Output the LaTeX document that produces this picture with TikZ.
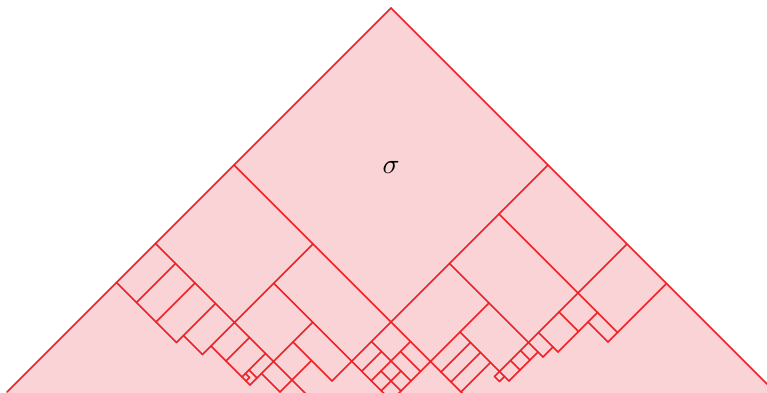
\documentclass[tikz,border=0pt]{standalone}
\usepackage{xcolor}
\definecolor{lred}{RGB}{236,34,39}
\definecolor{lpink}{RGB}{249,211,214}
\tikzset{seg/.style={draw=lred, line width=1.5pt, line cap=round}}
% constant a ("/" line) from b1 to b2
\newcommand\SA[3]{\draw[seg] (#1,#2) -- (#1,#3);}
% constant b ("\" line) from a1 to a2
\newcommand\SB[3]{\draw[seg] (#2,#1) -- (#3,#1);}
\begin{document}
\begin{tikzpicture}[x=1pt,y=-1pt]
\useasboundingbox (0,0) rectangle (767,392);
\clip (0,0) rectangle (767,392);
\fill[lpink] (391,8) -- (776,393) -- (6,393) -- cycle;
\begin{scope}[x={(0.5pt,-0.5pt)}, y={(-0.5pt,-0.5pt)}]
% outer edges
\SA{399}{-383}{385}
\SB{-383}{399}{1170}
% sigma and its extensions
\SA{713}{-383}{49}
\SB{-69}{399}{871}
% left part
\SB{88}{399}{713}
\SA{557}{-69}{152}
\SB{166}{399}{519}
\SA{439}{88}{166}
\SA{478}{88}{166}
\SA{519}{88}{166}
\SB{152}{519}{557}
\SA{587}{88}{135}
\SA{619}{88}{135}
\SB{135}{557}{635}
\SB{121}{619}{635}
\SA{627}{128}{135}
\SB{128}{619}{627}
\SA{635}{9.5}{135}
\SB{9.5}{557}{792}
\SB{49}{635}{713}
\SA{672}{49}{112}
\SB{112}{635}{672}
% centre cluster
\SB{-30}{713}{792}
\SA{752}{-69}{9.5}
\SA{733}{-30}{9.5}
\SB{-49}{752}{792}
\SA{772}{-30}{9.5}
\SB{-10}{752}{792}
% right part
\SA{792}{-186}{9.5}
\SB{-186}{713}{900}
\SB{-128}{792}{890}
\SA{813}{-128}{-69}
\SA{833}{-128}{-69}
\SA{853}{-128}{-69}
\SA{871}{-383}{-118}
\SA{881}{-128}{-118}
\SB{-118}{871}{881}
\SB{-285}{713}{950}
\SA{950}{-383}{-266}
\SA{910}{-285}{-206}
\SB{-266}{910}{950}
\SB{-247}{871}{910}
\SB{-206}{871}{910}
\SA{900}{-206}{-186}
\SA{890}{-186}{-128}
\SB{-170}{871}{890}
\SB{-150}{871}{890}
\end{scope}
\node[scale=2.8] (sig) at (391,167) {$\sigma$};
\end{tikzpicture}
\end{document}
